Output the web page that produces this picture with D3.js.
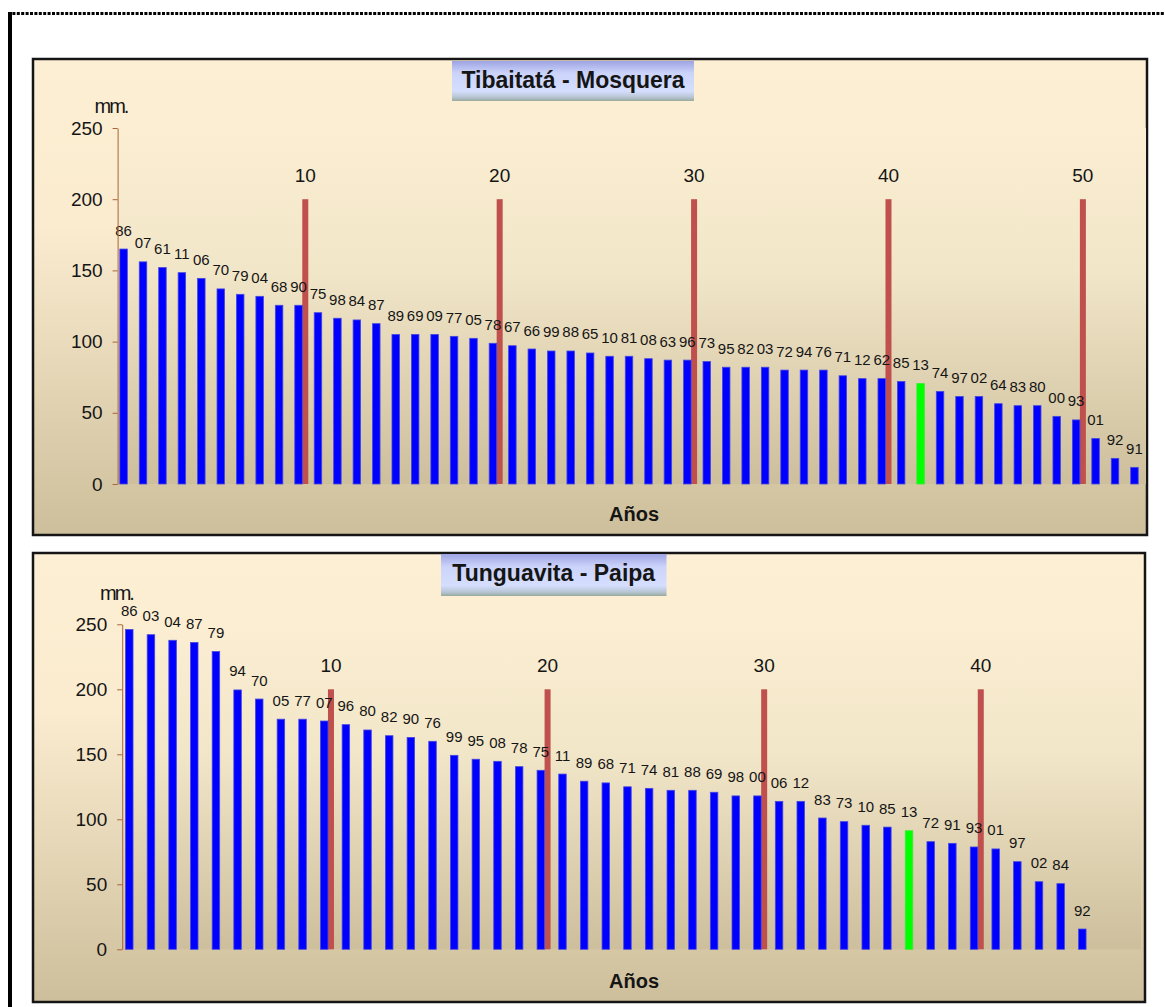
<!DOCTYPE html>
<html>
<head>
<meta charset="utf-8">
<script src="https://cdn.jsdelivr.net/npm/d3@7"></script>
<style>
  body { margin: 0; background: #fff; }
  svg text { font-family: Arial, "Liberation Sans", sans-serif; fill: #151515; }
</style>
</head>
<body>
<div id="page"></div>
<script>
"use strict";

// Tibaitatá - Mosquera: year labels (two digits) and rainfall in mm, sorted high to low
var topYears = ["86","07","61","11","06","70","79","04","68","90",
                "75","98","84","87","89","69","09","77","05","78",
                "67","66","99","88","65","10","81","08","63","96",
                "73","95","82","03","72","94","76","71","12","62",
                "85","13","74","97","02","64","83","80","00","93",
                "01","92","91"];
var topRain = [165, 156, 152, 148.4, 144.4, 137, 133.2, 131.8, 125.5, 125.5,
               120.3, 116.4, 115.2, 112.6, 105, 105, 105, 103.7, 102.3, 98.8,
               97.1, 94.8, 93.4, 93.4, 92, 89.7, 89.7, 88, 87, 87,
               86, 82, 82, 82, 80, 80, 80, 76, 74, 74,
               72, 70.5, 65, 61.5, 61.5, 56.4, 55, 55, 47.5, 45,
               32, 18, 11.7];
var topMarks = [10, 20, 30, 40, 50];

// Tunguavita - Paipa
var botYears = ["86","03","04","87","79","94","70","05","77","07",
                "96","80","82","90","76","99","95","08","78","75",
                "11","89","68","71","74","81","88","69","98","00",
                "06","12","83","73","10","85","13","72","91","93",
                "01","97","02","84","92"];
var botRain = [246, 242, 237.7, 236, 229, 199.5, 192.5, 177, 177, 175.6,
               172.8, 168.7, 164.3, 163, 160, 149.2, 146.2, 144.6, 140.5, 137.7,
               134.8, 129.3, 128, 125, 123.8, 122.3, 122.3, 120.8, 118, 118,
               113.8, 113.8, 101, 98.2, 95.4, 94, 91.2, 82.8, 81.5, 78.7,
               77.2, 67.4, 52, 50.5, 15.6];
var botMarks = [10, 20, 30, 40];

var highlightYear = "13";
var markValue = 200;
var yTicks = [0, 50, 100, 150, 200, 250];
var yMax = 250;

var svg = d3.select("#page").append("svg")
  .attr("width", 1165)
  .attr("height", 1007);

var defs = svg.append("defs");

// page frame: dotted top rule and thick left rule
svg.append("line")
  .attr("x1", 8).attr("x2", 1165).attr("y1", 13.5).attr("y2", 13.5)
  .attr("stroke", "#000").attr("stroke-width", 3)
  .attr("stroke-dasharray", "3,1.4");
svg.append("rect")
  .attr("x", 8).attr("y", 12).attr("width", 4).attr("height", 995)
  .attr("fill", "#000");

function gradient(id, stops) {
  var g = defs.append("linearGradient").attr("id", id)
    .attr("x1", 0).attr("y1", 0).attr("x2", 0).attr("y2", 1);
  stops.forEach(function(s) {
    g.append("stop").attr("offset", s[0]).attr("stop-color", s[1]);
  });
}

gradient("chartBg", [[0, "#fdefd3"], [0.35, "#fbecd0"], [1, "#cdbf9b"]]);
gradient("plotBg", [[0, "#fbeed2"], [0.4, "#f2e6c9"], [1, "#cdbf9c"]]);
gradient("titleBg", [[0, "#9ea4e2"], [0.3, "#cbd3fa"], [0.75, "#d5defe"], [0.9, "#b9c6d6"], [1, "#98aa9e"]]);

function chart(o) {
  var g = svg.append("g");

  // chart area
  g.append("rect")
    .attr("x", o.box[0]).attr("y", o.box[1])
    .attr("width", o.box[2]).attr("height", o.box[3])
    .attr("fill", "url(#chartBg)")
    .attr("stroke", "#151515").attr("stroke-width", 2.5);

  var x = d3.scaleBand().domain(d3.range(o.years.length)).range(o.xRange).paddingInner(0),
      y = d3.scaleLinear().domain([0, yMax]).range(o.yRange);

  // plot area
  g.append("rect")
    .attr("x", o.xRange[0]).attr("y", y(yMax))
    .attr("width", o.plotRight - o.xRange[0]).attr("height", y(0) - y(yMax))
    .attr("fill", "url(#plotBg)");

  function mid(i) { return x(i) + x.bandwidth() / 2; }

  // rank markers every ten years
  g.selectAll(".mark").data(o.marks).enter().append("rect")
    .attr("class", "mark")
    .attr("x", function(d) { return mid(d - 1); })
    .attr("y", y(markValue))
    .attr("width", 6)
    .attr("height", y(0) - y(markValue))
    .attr("fill", "#c0504d");

  g.selectAll(".mark-label").data(o.marks).enter().append("text")
    .attr("class", "mark-label")
    .attr("x", function(d) { return mid(d - 1) + 3; })
    .attr("y", y(markValue) - 17.5)
    .attr("text-anchor", "middle")
    .attr("font-size", 19)
    .text(function(d) { return d; });

  // rainfall bars
  g.selectAll(".bar").data(o.rain).enter().append("rect")
    .attr("class", "bar")
    .attr("x", function(d, i) { return mid(i) - 7.5; })
    .attr("y", function(d) { return y(d); })
    .attr("width", 7.5)
    .attr("height", function(d) { return y(0) - y(d); })
    .attr("fill", function(d, i) { return o.years[i] === highlightYear ? "#00ff00" : "#0000ff"; })
    .attr("stroke", function(d, i) { return o.years[i] === highlightYear ? "#33ee33" : "#4646e0"; })
    .attr("stroke-width", 0.8);

  g.selectAll(".bar-label").data(o.rain).enter().append("text")
    .attr("class", "bar-label")
    .attr("x", function(d, i) { return mid(i) - 3.75; })
    .attr("y", function(d) { return y(d) - 13.5; })
    .attr("text-anchor", "middle")
    .attr("font-size", 15)
    .text(function(d, i) { return o.years[i]; });

  // y axis
  var yAxis = d3.axisLeft(y).tickValues(yTicks).tickSize(5).tickSizeOuter(0).tickPadding(10);
  var ax = g.append("g")
    .attr("transform", "translate(" + o.xRange[0] + ",0)")
    .call(yAxis);
  ax.select(".domain").attr("stroke", "#a8663a");
  ax.selectAll(".tick line").attr("stroke", "#a8663a");
  ax.selectAll(".tick text")
    .attr("font-size", 19)
    .attr("font-family", "Arial, 'Liberation Sans', sans-serif")
    .attr("fill", "#151515");

  g.append("text")
    .attr("x", o.unit[0]).attr("y", o.unit[1])
    .attr("font-size", 20)
    .attr("letter-spacing", -2)
    .text("mm.");

  // title
  g.append("rect")
    .attr("x", o.titleBox[0]).attr("y", o.titleBox[1])
    .attr("width", o.titleBox[2]).attr("height", o.titleBox[3])
    .attr("fill", "url(#titleBg)");
  g.append("text")
    .attr("x", o.titleBox[0] + o.titleBox[2] / 2)
    .attr("y", o.titleBox[1] + 26.5)
    .attr("text-anchor", "middle")
    .attr("font-size", 23)
    .attr("font-weight", "bold")
    .text(o.title);

  g.append("text")
    .attr("x", 634).attr("y", o.xLabelY)
    .attr("text-anchor", "middle")
    .attr("font-size", 20)
    .attr("font-weight", "bold")
    .text("Años");
}

chart({
  title: "Tibaitatá - Mosquera",
  years: topYears, rain: topRain, marks: topMarks,
  box: [33, 59, 1114, 476],
  xRange: [117.6, 117.6 + 53 * 19.44],
  plotRight: 1146,
  yRange: [484, 128],
  unit: [94.5, 113],
  titleBox: [452, 61, 242, 40],
  xLabelY: 521
});

chart({
  title: "Tunguavita - Paipa",
  years: botYears, rain: botRain, marks: botMarks,
  box: [33, 553, 1112, 449],
  xRange: [122.2, 122.2 + 45 * 21.66],
  plotRight: 1141,
  yRange: [949.3, 624.3],
  unit: [100, 599.5],
  titleBox: [441, 554, 225.5, 42],
  xLabelY: 988
});
</script>
</body>
</html>
